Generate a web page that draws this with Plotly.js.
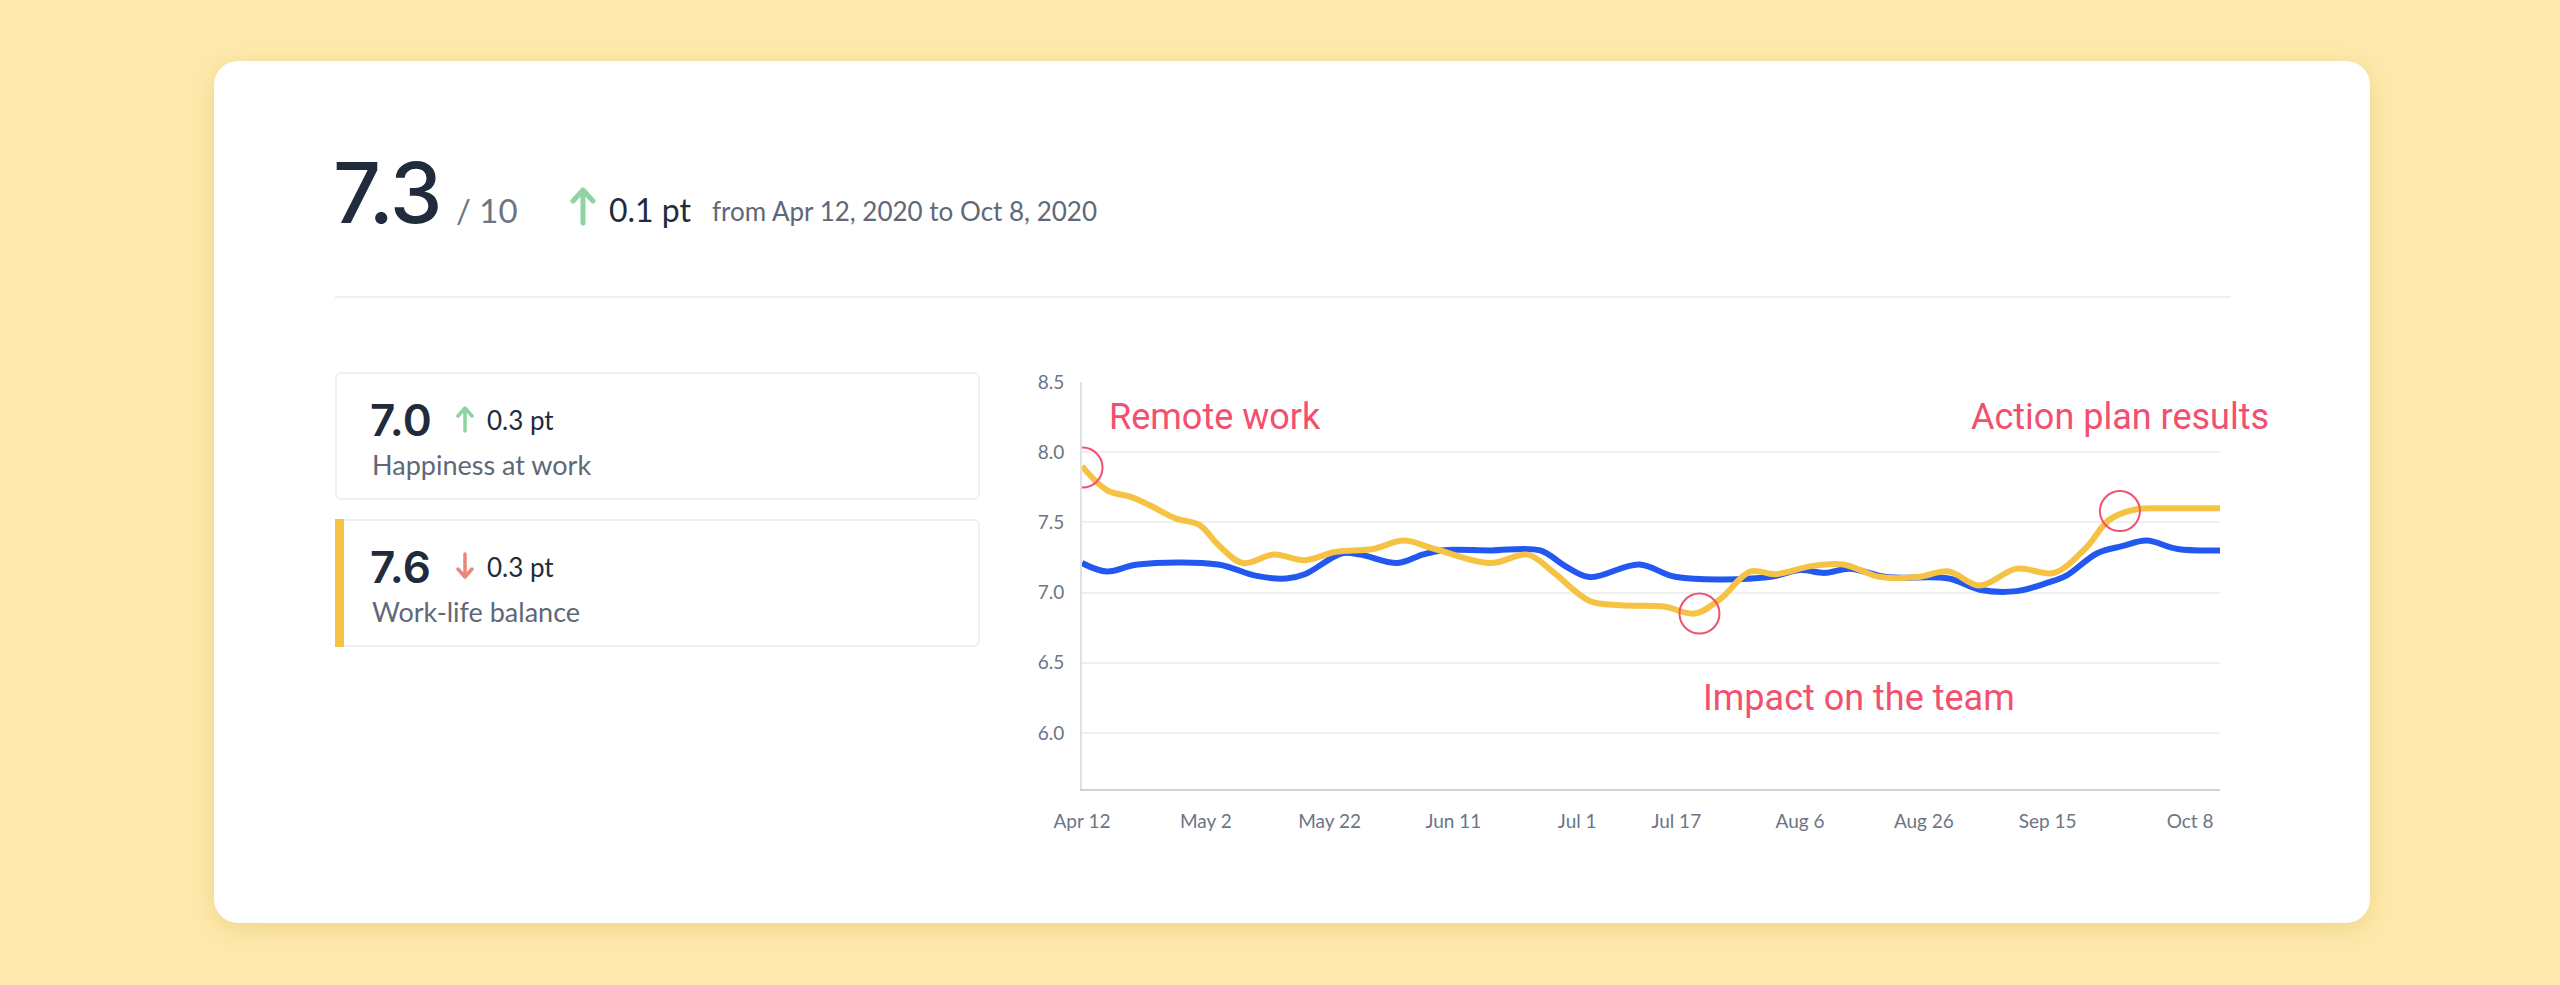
<!DOCTYPE html>
<html>
<head>
<meta charset="utf-8">
<script src="https://cdn.plot.ly/plotly-3.0.1.min.js"></script>
<style>
  html, body { margin: 0; padding: 0; }
  body { width: 2560px; height: 985px; background: #FEEAAE; position: relative; overflow: hidden; font-family: Lato, "Noto Sans", sans-serif; }
  .card { position: absolute; left: 214px; top: 61px; width: 2156px; height: 862px; background: #fff; border-radius: 24px; box-shadow: 0 6px 26px rgba(214, 172, 60, 0.35); }
  .abs { position: absolute; white-space: nowrap; }
  .big { font-family: Inter, Lato, sans-serif; font-weight: 500; color: #222B3B; }
  .dark { color: #222B3B; }
  .gray { color: #5E6878; }
  .box { position: absolute; left: 335px; width: 641px; height: 124px; border: 2px solid #EDEFF3; border-radius: 6px; background: #fff; box-sizing: content-box; }
  .bar { position: absolute; left: 335px; width: 9px; background: #F6C243; }
  #chart { position: absolute; left: 1000px; top: 340px; width: 1300px; height: 520px; }
</style>
</head>
<body>
<div class="card"></div>

<!-- header -->
<div class="abs big" style="left:333px; top:148px; font-size:84px; line-height:90px; letter-spacing:-2px;">7.3</div>
<div class="abs gray" style="left:456px; top:190px; font-size:33px; line-height:40px; color:#6B7585;">/ 10</div>
<svg class="abs" style="left:570px; top:186px;" width="26" height="40" viewBox="0 0 26 40">
  <path d="M13 37 L13 5 M3 15 L13 4 L23 15" stroke="#8FD3A2" stroke-width="5" fill="none" stroke-linecap="round" stroke-linejoin="round"/>
</svg>
<div class="abs dark" style="left:609px; top:190px; font-size:32px; line-height:40px;">0.1 pt</div>
<div class="abs gray" style="left:712px; top:194px; font-size:26px; line-height:34px;">from Apr 12, 2020 to Oct 8, 2020</div>

<div class="abs" style="left:335px; top:296px; width:1896px; height:2px; background:#EDEFF2;"></div>

<!-- KPI boxes -->
<div class="box" style="top:372px;"></div>
<div class="box" style="top:519px;"></div>
<div class="bar" style="top:519px; height:128px;"></div>

<div class="abs big" style="left:370px; top:395px; font-size:44px; line-height:50px; font-weight:600;">7.0</div>
<svg class="abs" style="left:456px; top:405px;" width="18" height="28" viewBox="0 0 18 28">
  <path d="M9 26 L9 4 M2 11 L9 3 L16 11" stroke="#8FD3A2" stroke-width="3.5" fill="none" stroke-linecap="round" stroke-linejoin="round"/>
</svg>
<div class="abs dark" style="left:487px; top:403px; font-size:26px; line-height:34px;">0.3 pt</div>
<div class="abs gray" style="left:372px; top:448px; font-size:27px; line-height:34px;">Happiness at work</div>

<div class="abs big" style="left:370px; top:542px; font-size:44px; line-height:50px; font-weight:600;">7.6</div>
<svg class="abs" style="left:456px; top:552px;" width="18" height="28" viewBox="0 0 18 28">
  <path d="M9 2 L9 24 M2 17 L9 25 L16 17" stroke="#E9897C" stroke-width="3.5" fill="none" stroke-linecap="round" stroke-linejoin="round"/>
</svg>
<div class="abs dark" style="left:487px; top:550px; font-size:26px; line-height:34px;">0.3 pt</div>
<div class="abs gray" style="left:372px; top:595px; font-size:27px; line-height:34px;">Work-life balance</div>

<div id="chart"></div>

<script>
// ---- data ----
const happinessDates = ['2020-04-12','2020-04-16','2020-04-21','2020-05-04','2020-05-10','2020-05-15','2020-05-18','2020-05-24','2020-05-27','2020-06-02','2020-06-06','2020-06-09','2020-06-17','2020-06-25','2020-06-29','2020-07-03','2020-07-11','2020-07-17','2020-08-01','2020-08-06','2020-08-10','2020-08-14','2020-08-20','2020-08-30','2020-09-04','2020-09-10','2020-09-15','2020-09-18','2020-09-23','2020-09-27','2020-10-01','2020-10-06','2020-10-12 20:00'];
const happinessValues = [7.21,7.15,7.20,7.20,7.12,7.10,7.13,7.28,7.27,7.21,7.27,7.30,7.30,7.30,7.19,7.11,7.20,7.11,7.11,7.16,7.14,7.17,7.11,7.10,7.02,7.01,7.07,7.12,7.28,7.33,7.37,7.31,7.30];

const balanceDates = ['2020-04-12','2020-04-16','2020-04-20','2020-04-23','2020-04-27','2020-05-01','2020-05-04','2020-05-08','2020-05-13','2020-05-18','2020-05-23','2020-05-29','2020-06-03','2020-06-08','2020-06-17','2020-06-23','2020-06-27','2020-07-03','2020-07-08','2020-07-15','2020-07-20','2020-07-24','2020-07-29','2020-08-02','2020-08-08','2020-08-13','2020-08-19','2020-08-25','2020-08-30','2020-09-04','2020-09-10','2020-09-16','2020-09-21','2020-09-25','2020-09-29','2020-10-04','2020-10-12 20:00'];
const balanceValues = [7.90,7.73,7.68,7.62,7.53,7.48,7.34,7.21,7.27,7.23,7.29,7.31,7.37,7.31,7.21,7.27,7.15,6.94,6.91,6.90,6.85,6.95,7.15,7.13,7.19,7.20,7.11,7.11,7.15,7.05,7.17,7.14,7.31,7.52,7.59,7.60,7.60];

const tickDates = ['2020-04-12','2020-05-02','2020-05-22','2020-06-11','2020-07-01','2020-07-17','2020-08-06','2020-08-26','2020-09-15','2020-10-08'];
const tickLabels = ['Apr 12','May 2','May 22','Jun 11','Jul 1','Jul 17','Aug 6','Aug 26','Sep 15','Oct 8'];
const yTicks = [6.0, 6.5, 7.0, 7.5, 8.0, 8.5];

const markerDates = ['2020-04-12 02:00','2020-07-20 18:00','2020-09-26 16:00'];
const markerValues = [7.89, 6.85, 7.58];

const labelTexts = ['Remote work','Impact on the team','Action plan results'];
const labelDates = ['2020-04-16','2020-07-21','2020-09-02 08:00'];
const labelValues = [8.25, 6.25, 8.25];

// ---- chart ----
const red = '#F2506E';
const traces = [
  { x: happinessDates, y: happinessValues, type: 'scatter', mode: 'lines', name: 'Happiness at work',
    line: { color: '#2258F0', width: 6, shape: 'spline', smoothing: 1 }, hoverinfo: 'skip' },
  { x: balanceDates, y: balanceValues, type: 'scatter', mode: 'lines', name: 'Work-life balance',
    line: { color: '#F5C244', width: 6, shape: 'spline', smoothing: 1 }, hoverinfo: 'skip' }
];

const shapes = markerDates.map((d, i) => ({
  type: 'circle', xref: 'x', yref: 'y', xsizemode: 'pixel', ysizemode: 'pixel',
  xanchor: d, yanchor: markerValues[i], x0: -20, x1: 20, y0: -20, y1: 20,
  line: { color: red, width: 2 }, fillcolor: 'rgba(0,0,0,0)', layer: 'above'
}));

const annotations = labelTexts.map((t, i) => ({
  text: t, x: labelDates[i], y: labelValues[i], xref: 'x', yref: 'y',
  xanchor: 'left', yanchor: 'middle', showarrow: false,
  font: { family: 'Roboto, sans-serif', size: 36, color: red }
}));

const layout = {
  width: 1300, height: 520,
  margin: { l: 82, r: 80, t: 42, b: 71 },
  paper_bgcolor: 'rgba(0,0,0,0)', plot_bgcolor: 'rgba(0,0,0,0)',
  showlegend: false,
  font: { family: 'Lato, "Noto Sans", sans-serif', size: 19, color: '#6B7585' },
  xaxis: {
    type: 'date', range: ['2020-04-12', '2020-10-12 20:00'],
    tickmode: 'array', tickvals: tickDates, ticktext: tickLabels,
    showgrid: false, zeroline: false,
    showline: true, linecolor: '#CBD2DC', linewidth: 2,
    ticks: 'outside', ticklen: 14, tickcolor: 'rgba(0,0,0,0)',
    tickfont: { size: 19, color: '#6B7585' }
  },
  yaxis: {
    range: [5.6, 8.5], tickmode: 'array', tickvals: yTicks,
    tickformat: '.1f',
    showgrid: true, gridcolor: '#EEF0F4', gridwidth: 2,
    zeroline: false, showline: true, linecolor: '#DDE1E8', linewidth: 2,
    ticks: 'outside', ticklen: 12, tickcolor: 'rgba(0,0,0,0)',
    tickfont: { size: 19, color: '#6B7585' }
  },
  shapes: shapes,
  annotations: annotations
};

Plotly.newPlot('chart', traces, layout, { staticPlot: true, displayModeBar: false });
</script>
</body>
</html>
